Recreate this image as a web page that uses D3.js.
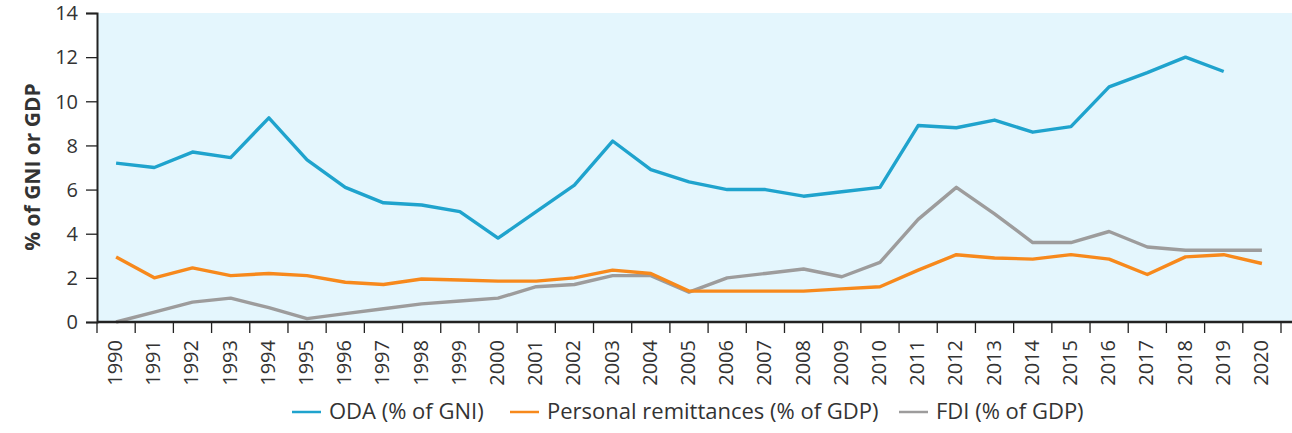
<!DOCTYPE html>
<html>
<head>
<meta charset="utf-8">
<script src="https://cdn.jsdelivr.net/npm/d3@7"></script>
<style>
  body { margin: 0; background: #fff; }
  text { font-family: "Open Sans", "Noto Sans", sans-serif; fill: #333; }
</style>
</head>
<body>
<div id="chart"></div>
<script>
// years on the x axis
const years = d3.range(1990, 2021).map(String);

// ODA (% of GNI), no value for 2020
const oda = [7.2, 7.0, 7.7, 7.45, 9.25, 7.35, 6.1, 5.4, 5.3, 5.0, 3.8, 5.0, 6.2, 8.2, 6.9,
  6.35, 6.0, 6.0, 5.7, 5.9, 6.1, 8.9, 8.8, 9.15, 8.6, 8.85, 10.65, 11.3, 12.0, 11.35, null];

// Personal remittances (% of GDP)
const remittances = [2.95, 2.0, 2.45, 2.1, 2.2, 2.1, 1.8, 1.7, 1.95, 1.9, 1.85, 1.85, 2.0, 2.35, 2.2,
  1.4, 1.4, 1.4, 1.4, 1.5, 1.6, 2.35, 3.05, 2.9, 2.85, 3.05, 2.85, 2.15, 2.95, 3.05, 2.65];

// FDI (% of GDP)
const fdi = [0, 0.45, 0.9, 1.08, 0.65, 0.15, 0.38, 0.6, 0.82, 0.95, 1.08, 1.6, 1.7, 2.1, 2.1,
  1.35, 2.0, 2.2, 2.4, 2.05, 2.7, 4.65, 6.1, 4.9, 3.6, 3.6, 4.1, 3.4, 3.25, 3.25, 3.25];

const yTicks = [0, 2, 4, 6, 8, 10, 12, 14];

const series = [
  { name: "ODA (% of GNI)", values: oda, color: "#1fa3cd" },
  { name: "Personal remittances (% of GDP)", values: remittances, color: "#f7891c" },
  { name: "FDI (% of GDP)", values: fdi, color: "#9d9c9c" }
];

const width = 1292, height = 433;
const margin = { top: 13, right: 6, bottom: 111, left: 97 };
const innerW = width - margin.left - margin.right;
const innerH = height - margin.top - margin.bottom;

const svg = d3.select("#chart")
  .append("svg")
  .attr("width", width)
  .attr("height", height);

const g = svg.append("g")
  .attr("transform", `translate(${margin.left},${margin.top})`);

const x = d3.scaleBand()
  .domain(years)
  .range([0, innerW - 5]);

const y = d3.scaleLinear()
  .domain([0, 14])
  .range([innerH, 0]);

// background
g.append("rect")
  .attr("x", 0)
  .attr("y", 0)
  .attr("width", innerW + margin.right)
  .attr("height", innerH)
  .attr("fill", "#e4f6fd");

// lines
const line = d3.line()
  .defined(d => d != null)
  .x((d, i) => x(years[i]) + x.bandwidth() / 2)
  .y(d => y(d));

series.slice().reverse().forEach(s => {
  g.append("path")
    .datum(s.values)
    .attr("fill", "none")
    .attr("stroke", s.color)
    .attr("stroke-width", 3.4)
    .attr("stroke-linejoin", "round")
    .attr("d", line);
});

// Y axis
const yAxis = g.append("g")
  .call(d3.axisLeft(y).tickValues(yTicks).tickSize(11).tickPadding(8));
yAxis.select(".domain").attr("stroke", "#222").attr("stroke-width", 2);
yAxis.selectAll(".tick line").attr("stroke", "#222").attr("stroke-width", 1.3);
yAxis.selectAll("text").style("font-size", "20px").attr("fill", "#333").attr("dy", "0.34em");

// X axis: ticks at band boundaries
const xAxis = g.append("g")
  .attr("transform", `translate(0,${innerH})`);
xAxis.append("line")
  .attr("x1", 0)
  .attr("x2", innerW + margin.right)
  .attr("stroke", "#222")
  .attr("stroke-width", 2.5);
xAxis.selectAll(".tk")
  .data(years.concat(["end"]))
  .enter().append("line")
  .attr("x1", (d, i) => i < years.length ? x(d) : x(years[years.length - 1]) + x.bandwidth())
  .attr("x2", (d, i) => i < years.length ? x(d) : x(years[years.length - 1]) + x.bandwidth())
  .attr("y1", 0)
  .attr("y2", 11)
  .attr("stroke", "#222")
  .attr("stroke-width", 1.3);
xAxis.selectAll(".lbl")
  .data(years)
  .enter().append("text")
  .attr("transform", d => `translate(${x(d) + x.bandwidth() / 2 + 6},${18}) rotate(-90)`)
  .attr("text-anchor", "end")
  .style("font-size", "20px")
  .text(d => d);

// Y axis label
svg.append("text")
  .attr("transform", `translate(40,${margin.top + 154}) rotate(-90)`)
  .attr("text-anchor", "middle")
  .style("font-size", "21px")
  .style("font-weight", "bold")
  .attr("fill", "#222")
  .text("% of GNI or GDP");

// Legend
const legendX = [292, 510, 899];
const legend = svg.append("g");
series.forEach((s, i) => {
  legend.append("line")
    .attr("x1", legendX[i])
    .attr("x2", legendX[i] + 29)
    .attr("y1", 412)
    .attr("y2", 412)
    .attr("stroke", s.color)
    .attr("stroke-width", 2.5);
  legend.append("text")
    .attr("x", legendX[i] + 37)
    .attr("y", 419)
    .style("font-size", "22px")
    .text(s.name);
});
</script>
</body>
</html>
